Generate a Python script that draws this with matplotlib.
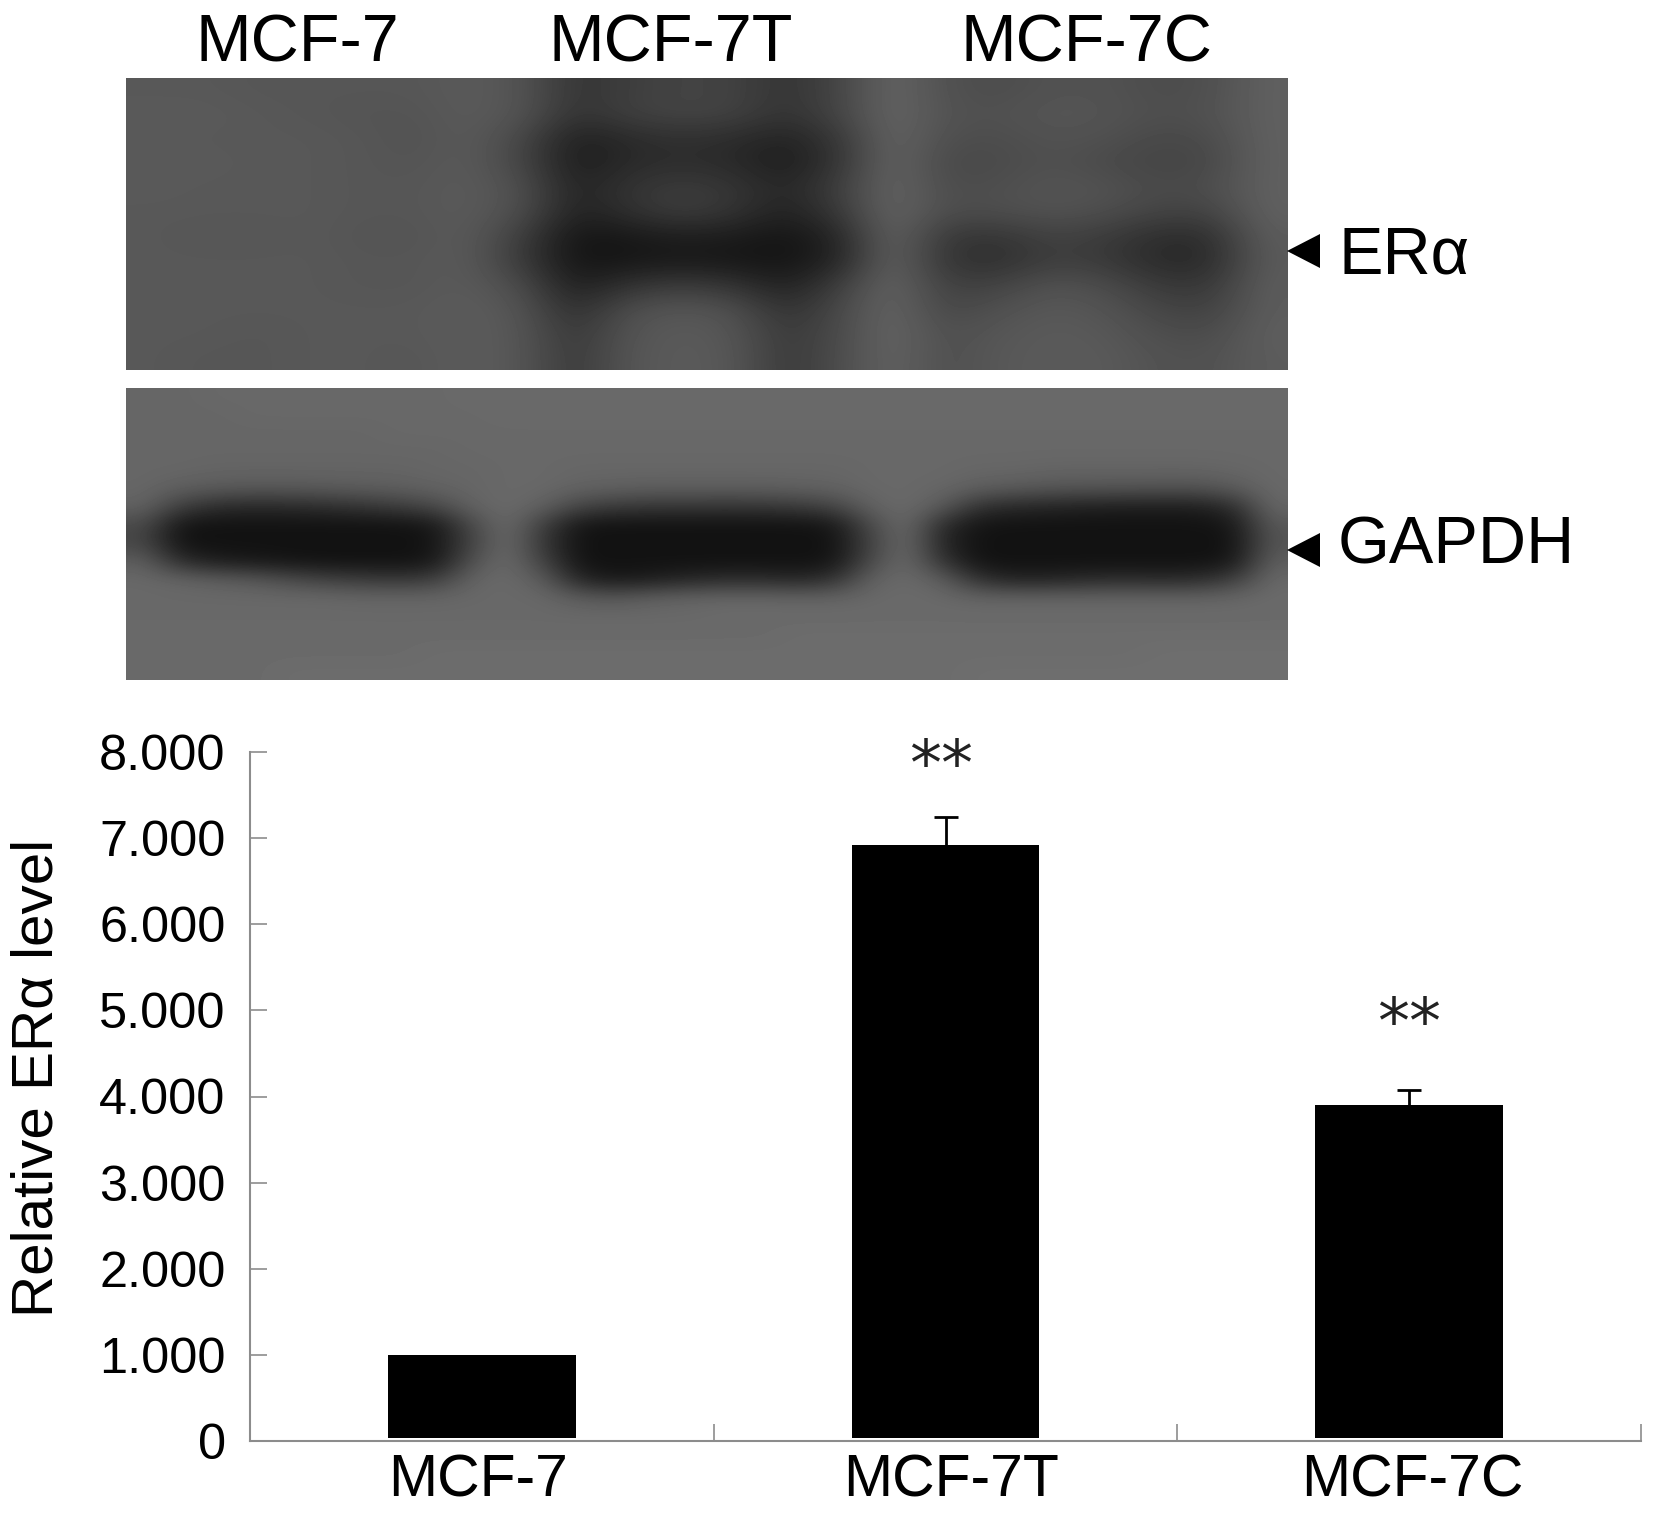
import matplotlib
matplotlib.use('Agg')
import matplotlib.pyplot as plt
import numpy as np
from matplotlib.patches import Polygon
from matplotlib.transforms import ScaledTranslation

plt.rcParams['font.family'] = ['Liberation Sans', 'DejaVu Sans']

groups = ['MCF-7', 'MCF-7T', 'MCF-7C']
values = [1.0, 6.92, 3.9]
errors = [0, 0.33, 0.18]
yticks = [0, 1, 2, 3, 4, 5, 6, 7, 8]
ytick_labels = ['0', '1.000', '2.000', '3.000', '4.000', '5.000', '6.000', '7.000', '8.000']
stars = ['', '**', '**']
star_y = [0, 7.83, 4.83]

# grey levels
era_blot = [
    [88, 88, 86, 86, 86, 86, 90, 84, 52, 62, 68, 66, 52, 68, 102, 80, 76, 82, 82, 76, 78, 96],
    [90, 90, 88, 86, 84, 84, 90, 84, 50, 64, 68, 66, 50, 68, 102, 82, 80, 86, 84, 78, 80, 96],
    [90, 88, 88, 88, 86, 82, 90, 72, 30, 42, 48, 44, 34, 54, 102, 78, 76, 82, 80, 72, 74, 96],
    [90, 90, 88, 88, 86, 84, 90, 70, 28, 42, 46, 42, 28, 52, 102, 72, 74, 80, 74, 68, 70, 96],
    [90, 88, 88, 88, 86, 86, 90, 80, 34, 52, 60, 54, 38, 62, 102, 76, 78, 84, 82, 74, 76, 96],
    [88, 88, 88, 88, 86, 86, 90, 78, 32, 48, 62, 52, 32, 56, 102, 76, 78, 82, 78, 68, 66, 96],
    [88, 86, 86, 88, 84, 84, 90, 62, 20, 24, 30, 28, 20, 36, 102, 56, 52, 66, 60, 46, 44, 92],
    [88, 88, 88, 88, 86, 86, 90, 58, 20, 22, 24, 22, 20, 34, 102, 52, 46, 62, 58, 42, 40, 90],
    [88, 88, 88, 88, 86, 86, 90, 76, 28, 50, 60, 52, 30, 62, 102, 64, 66, 82, 76, 58, 54, 92],
    [88, 88, 88, 88, 88, 88, 92, 84, 44, 78, 86, 80, 48, 72, 102, 70, 80, 88, 84, 70, 64, 92],
    [88, 88, 86, 88, 88, 88, 92, 86, 54, 84, 90, 86, 56, 74, 102, 78, 86, 90, 88, 78, 74, 94],
    [88, 86, 86, 88, 88, 86, 92, 86, 56, 86, 90, 88, 56, 76, 100, 78, 88, 90, 90, 82, 80, 92],
]
gapdh_blot = [
    [102, 102, 104, 104, 104, 104, 104, 104, 104, 106, 106, 106, 106, 106, 106, 106, 106, 106, 106, 106, 106, 106, 106, 106, 106, 106, 106, 106, 106, 106, 106, 106],
    [102, 102, 102, 104, 104, 104, 104, 104, 104, 104, 106, 106, 106, 106, 106, 106, 106, 106, 106, 106, 106, 106, 106, 106, 106, 106, 106, 106, 106, 106, 106, 106],
    [102, 102, 102, 102, 102, 102, 102, 104, 104, 104, 104, 104, 104, 104, 104, 104, 104, 104, 104, 104, 104, 104, 104, 104, 104, 104, 104, 104, 104, 104, 104, 104],
    [102, 102, 102, 102, 102, 102, 102, 102, 102, 104, 104, 104, 104, 104, 104, 104, 104, 104, 104, 104, 104, 104, 104, 104, 104, 104, 104, 104, 104, 104, 104, 104],
    [102, 102, 100, 100, 100, 100, 100, 100, 102, 102, 104, 104, 102, 102, 102, 102, 102, 102, 102, 102, 104, 104, 104, 102, 102, 100, 100, 100, 100, 100, 102, 104],
    [102, 94, 90, 88, 88, 90, 92, 94, 98, 102, 104, 104, 98, 96, 94, 94, 94, 94, 96, 98, 104, 104, 102, 94, 90, 86, 84, 84, 82, 82, 90, 104],
    [98, 62, 44, 40, 42, 46, 52, 60, 72, 98, 106, 96, 68, 58, 54, 54, 52, 54, 58, 68, 98, 106, 90, 48, 40, 36, 32, 30, 30, 30, 44, 102],
    [74, 20, 18, 18, 18, 18, 18, 18, 22, 72, 108, 62, 20, 18, 18, 18, 18, 18, 18, 22, 74, 108, 42, 20, 18, 18, 18, 18, 18, 18, 22, 88],
    [70, 18, 18, 18, 18, 18, 18, 18, 20, 66, 108, 54, 18, 18, 18, 18, 18, 18, 18, 18, 66, 108, 36, 18, 18, 18, 18, 18, 18, 18, 18, 84],
    [94, 44, 28, 24, 20, 18, 18, 18, 22, 80, 108, 66, 18, 18, 18, 18, 18, 18, 18, 20, 74, 108, 50, 18, 18, 18, 18, 18, 18, 18, 22, 94],
    [104, 100, 94, 88, 76, 66, 60, 56, 62, 100, 106, 92, 36, 24, 30, 38, 44, 44, 38, 50, 98, 106, 94, 48, 34, 36, 42, 44, 42, 44, 62, 104],
    [104, 104, 104, 104, 104, 104, 102, 102, 102, 104, 104, 104, 92, 88, 96, 100, 102, 102, 100, 100, 104, 106, 104, 100, 100, 100, 100, 100, 100, 100, 102, 106],
    [104, 104, 104, 104, 104, 104, 104, 104, 104, 104, 104, 104, 104, 104, 104, 104, 106, 106, 106, 106, 106, 106, 106, 106, 106, 106, 106, 106, 106, 106, 106, 106],
    [106, 106, 106, 106, 106, 106, 106, 106, 106, 106, 106, 106, 106, 106, 106, 106, 106, 106, 108, 108, 108, 108, 108, 108, 108, 108, 108, 108, 108, 108, 108, 108],
    [106, 106, 106, 106, 106, 106, 106, 106, 108, 108, 108, 108, 108, 108, 108, 108, 108, 108, 108, 108, 108, 108, 108, 108, 108, 108, 108, 108, 110, 110, 110, 110],
    [106, 106, 106, 106, 108, 108, 108, 108, 108, 108, 108, 108, 108, 108, 108, 108, 108, 108, 108, 108, 108, 108, 108, 110, 110, 110, 110, 110, 110, 110, 110, 110],
]

W, H = 1654, 1513
fig = plt.figure(figsize=(W / 100, H / 100), dpi=100, facecolor='white')


def px_axes(x0, y0, x1, y1):
    # pixel box, y measured from the top of the figure
    return fig.add_axes([x0 / W, 1 - y1 / H, (x1 - x0) / W, (y1 - y0) / H])


for blot, box in [(era_blot, (126, 78, 1288, 370)), (gapdh_blot, (126, 388, 1288, 680))]:
    ax_b = px_axes(*box)
    ax_b.imshow(np.array(blot), cmap='gray', vmin=0, vmax=255, aspect='auto', interpolation='bicubic')
    ax_b.axis('off')

# labels around the blots
lay = fig.add_axes([0, 0, 1, 1], zorder=5)
lay.set_xlim(0, W)
lay.set_ylim(H, 0)
lay.axis('off')
for name, x in zip(groups, [297, 671, 1086]):
    lay.text(x, 61, name, fontsize=48, ha='center', va='baseline')
lay.text(1338, 274, 'ERα', fontsize=48, ha='left', va='baseline')
lay.text(1338, 564, 'GAPDH', fontsize=48, ha='left', va='baseline')
for yc in [251, 550]:
    lay.add_patch(Polygon([(1287, yc), (1320, yc - 17), (1320, yc + 17)], color='black', lw=0))

# bar chart
ax = px_axes(250, 752, 1641, 1441)
x = np.arange(len(groups))
ax.bar(x, np.array(values) - 0.03, bottom=0.03, width=0.405, color='black')
for i in x:
    if errors[i] > 0:
        eb = ax.errorbar(i, values[i], yerr=[[0], [errors[i]]], fmt='none', ecolor='black',
                         elinewidth=2, capsize=8.5, capthick=2)
        eb[1][0].set_visible(False)
for i, s in enumerate(stars):
    if s:
        ax.text(i - (0.01 if i == 1 else 0), star_y[i], s, fontsize=46, family='DejaVu Sans',
                ha='center', va='center', color='#222222')

ax.set_xlim(-0.5, 2.5)
ax.set_ylim(0, 8)
ax.set_yticks(yticks)
ax.set_yticklabels(ytick_labels, fontsize=36.3)
ax.set_xticks(x)
ax.set_xticklabels(groups, fontsize=42.3)
ax.set_xticks([0.5, 1.5, 2.5], minor=True)
ax.spines['top'].set_visible(False)
ax.spines['right'].set_visible(False)
for s in ['left', 'bottom']:
    ax.spines[s].set_color('#8c8c8c')
    ax.spines[s].set_linewidth(1.5)
ax.tick_params(axis='y', direction='in', length=12, width=1.2, color='#8c8c8c', pad=17.5)
ax.tick_params(axis='x', which='major', length=0, pad=9)
ax.tick_params(axis='x', which='minor', direction='in', length=12, width=1.2, color='#8c8c8c')
ax.patch.set_alpha(0)

# the labels are not quite centred under the bars in the original
for lab, dx in zip(ax.get_xticklabels(), [-3, 3.8, 2.3]):
    lab.set_transform(lab.get_transform() + ScaledTranslation(dx / 72, 0, fig.dpi_scale_trans))

fig.text(38 / W, 1 - 1078 / H, 'Relative ERα level', fontsize=42, rotation=90, ha='center', va='center')

fig.savefig('out.png', dpi=100)
